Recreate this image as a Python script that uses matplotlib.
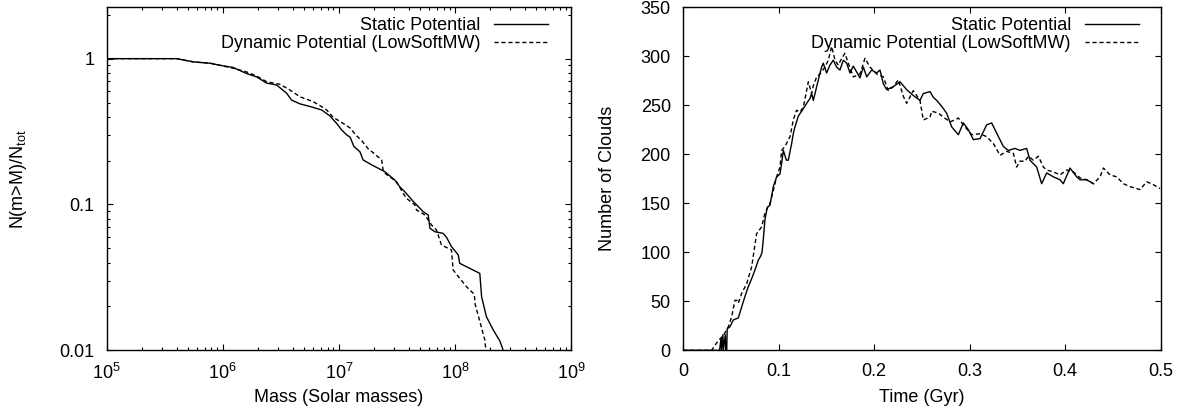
import numpy as np
import matplotlib
matplotlib.use('Agg')
import matplotlib.pyplot as plt
from matplotlib.ticker import NullFormatter, LogLocator

plt.rcParams['font.family'] = ['Liberation Sans', 'DejaVu Sans']
plt.rcParams['mathtext.fontset'] = 'custom'
plt.rcParams['mathtext.rm'] = 'Liberation Sans'
plt.rcParams['mathtext.default'] = 'regular'

# Left panel: cumulative mass function N(m>M)/Ntot
mass_static = [1e5, 4.0e5, 5.6e5, 7.8e5, 9.5e5, 1.23e6, 1.61e6, 1.96e6, 2.39e6,
               2.91e6, 3.55e6, 3.92e6, 4.62e6, 5.64e6, 7.11e6, 8.38e6, 9.57e6,
               1.06e7, 1.17e7, 1.25e7, 1.35e7, 1.52e7, 1.62e7, 1.92e7, 2.19e7,
               2.49e7, 3.04e7, 3.36e7, 3.71e7, 4.38e7, 5.33e7, 5.89e7, 6.10e7,
               6.73e7, 7.92e7, 8.47e7, 9.35e7, 1.07e8, 1.10e8, 1.64e8, 1.70e8,
               1.87e8, 2.14e8, 2.44e8, 2.61e8]
frac_static = [1.0, 1.0, 0.95, 0.93, 0.90, 0.87, 0.79, 0.75, 0.68,
               0.66, 0.58, 0.52, 0.49, 0.47, 0.445, 0.405, 0.36,
               0.324, 0.30, 0.29, 0.25, 0.23, 0.202, 0.187, 0.177,
               0.168, 0.147, 0.132, 0.122, 0.105, 0.0893, 0.0847, 0.0687,
               0.065, 0.0634, 0.0596, 0.0514, 0.0451, 0.0395, 0.0337, 0.0233,
               0.0170, 0.0138, 0.0116, 0.0100]

mass_dynamic = [1e5, 4.0e5, 5.6e5, 7.8e5, 9.5e5, 1.23e6, 1.61e6, 1.96e6, 2.39e6,
                3.11e6, 3.79e6, 4.62e6, 6.03e6, 7.11e6, 7.85e6, 8.95e6, 1.09e7,
                1.25e7, 1.4e7, 1.6e7, 1.8e7, 2.0e7, 2.34e7, 2.41e7, 2.49e7,
                3.15e7, 3.59e7, 3.84e7, 4.52e7, 4.68e7, 5.52e7, 5.89e7, 6.30e7,
                6.95e7, 7.67e7, 9.35e7, 9.66e7, 1.10e8, 1.26e8, 1.44e8, 1.47e8,
                1.50e8, 1.64e8, 1.81e8, 1.85e8]
frac_dynamic = [1.0, 1.0, 0.95, 0.93, 0.90, 0.86, 0.81, 0.76, 0.695,
                0.667, 0.61, 0.548, 0.507, 0.469, 0.445, 0.396, 0.36,
                0.335, 0.30, 0.27, 0.24, 0.225, 0.202, 0.172, 0.164,
                0.143, 0.119, 0.110, 0.0993, 0.0916, 0.0847, 0.0783, 0.0723,
                0.0668, 0.0527, 0.0488, 0.0356, 0.0312, 0.0273, 0.0246, 0.0240,
                0.0205, 0.0158, 0.0118, 0.0100]

# Right panel: number of clouds vs time
time_static = [0.0, 0.036, 0.038, 0.0395, 0.040, 0.0415, 0.042, 0.044, 0.0445,
               0.0455, 0.046, 0.0489, 0.0524, 0.0576, 0.0611, 0.0646, 0.0681,
               0.0716, 0.0751, 0.0786, 0.081, 0.0825, 0.0838, 0.0855, 0.088,
               0.0908, 0.0943, 0.0978, 0.1013, 0.103, 0.1048, 0.108, 0.110,
               0.1135, 0.1152, 0.117, 0.1205, 0.124, 0.1292, 0.1327, 0.1344,
               0.1362, 0.1397, 0.1432, 0.1449, 0.1466, 0.1501, 0.1536, 0.1571,
               0.1606, 0.1641, 0.1676, 0.1711, 0.1746, 0.178, 0.1816, 0.185,
               0.1886, 0.1921, 0.1973, 0.2025, 0.2060, 0.2095, 0.2130, 0.2200,
               0.2270, 0.2339, 0.2409, 0.2479, 0.2514, 0.2584, 0.262, 0.2654,
               0.2706, 0.2758, 0.2811, 0.2881, 0.2933, 0.2986, 0.3038, 0.3108,
               0.3177, 0.3230, 0.3265, 0.3352, 0.3404, 0.3474, 0.3526, 0.3596,
               0.3631, 0.3701, 0.3753, 0.3806, 0.3876, 0.3946, 0.3980, 0.4050,
               0.4120, 0.4155, 0.4225, 0.4295]
count_static = [0, 0, 0, 12, 0, 16, 0, 16, 0,
                0, 22, 24, 31, 33, 44, 55, 65,
                73, 82, 92, 96, 100, 113, 133, 146,
                148, 167, 177, 180, 191, 204, 194, 194,
                211, 221, 228, 239, 244, 252, 257, 262,
                255, 269, 283, 289, 293, 283, 291, 296,
                289, 286, 296, 293, 283, 290, 284, 278,
                289, 279, 286, 283, 286, 272, 266, 269,
                274, 266, 260, 255, 262, 264, 258, 255,
                249, 242, 228, 220, 232, 225, 215, 216,
                230, 232, 225, 208, 204, 206, 204, 206,
                194, 187, 170, 181, 177, 174, 170, 186,
                177, 174, 174, 170]

time_dynamic = [0.0, 0.014, 0.0297, 0.0367, 0.0419, 0.0472, 0.0506, 0.0541, 0.056,
                0.0576, 0.0611, 0.0664, 0.0716, 0.0768, 0.0821, 0.0855, 0.0908,
                0.0943, 0.0978, 0.1013, 0.1030, 0.1065, 0.1118, 0.1152, 0.1187,
                0.1222, 0.1257, 0.1310, 0.1344, 0.1362, 0.1397, 0.1432, 0.1484,
                0.1519, 0.1554, 0.1589, 0.1624, 0.1659, 0.1693, 0.1728, 0.1781,
                0.1851, 0.1903, 0.1955, 0.2025, 0.2095, 0.2147, 0.2200, 0.2252,
                0.2305, 0.2339, 0.2409, 0.2479, 0.2514, 0.2584, 0.2601, 0.2671,
                0.2724, 0.2794, 0.2881, 0.2933, 0.3021, 0.3108, 0.3177, 0.3247,
                0.3317, 0.3387, 0.3457, 0.3491, 0.3526, 0.3579, 0.3614, 0.3666,
                0.3719, 0.3771, 0.3806, 0.3876, 0.3946, 0.4015, 0.4085, 0.4155,
                0.4225, 0.4295, 0.4365, 0.4400, 0.4469, 0.4539, 0.4609, 0.4679,
                0.4749, 0.4784, 0.4853, 0.4923, 0.4993]
count_dynamic = [0, 0, 0, 10, 15, 24, 34, 51, 51,
                 48, 58, 68, 85, 119, 126, 140, 150,
                 163, 177, 187, 204, 208, 218, 235, 245,
                 243, 248, 274, 262, 270, 279, 282, 289,
                 296, 310, 296, 291, 298, 303, 293, 279,
                 282, 298, 289, 282, 279, 265, 269, 276,
                 259, 252, 265, 255, 235, 238, 244, 242,
                 238, 233, 237, 230, 220, 221, 218, 211,
                 199, 203, 201, 187, 193, 193, 198, 194,
                 198, 187, 184, 182, 179, 184, 182, 176,
                 174, 170, 177, 186, 179, 177, 170, 167,
                 165, 164, 172, 169, 165]

label_static = "Static Potential"
label_dynamic = "Dynamic Potential (LowSoftMW)"

fig = plt.figure(figsize=(11.85, 4.08), dpi=100)
ax1 = fig.add_axes([0.0900, 0.1414, 0.3918, 0.8407])
ax2 = fig.add_axes([0.5766, 0.1414, 0.4029, 0.8407])

fs = 13
dash = (0, (3, 2))

for ax in (ax1, ax2):
    for loc in ax.spines:
        ax.spines[loc].set_linewidth(1.0)
    ax.tick_params(axis='both', which='major', direction='in', length=4,
                   width=0.8, top=True, right=True, labelsize=fs, pad=9)
    ax.tick_params(axis='both', which='minor', direction='in', length=2,
                   width=0.8, top=True, right=True)

# Left panel
ax1.plot(mass_static, frac_static, color='black', lw=1.0, label=label_static)
ax1.plot(mass_dynamic, frac_dynamic, color='black', lw=1.0, linestyle=dash,
         label=label_dynamic)
ax1.set_xscale('log')
ax1.set_yscale('log')
ax1.set_xlim(1e5, 1e9)
ax1.set_ylim(0.01, 2.25)
ax1.set_xticks([1e5, 1e6, 1e7, 1e8, 1e9])
ax1.set_xticklabels(['$10^{5}$', '$10^{6}$', '$10^{7}$', '$10^{8}$', '$10^{9}$'])
ax1.set_yticks([0.01, 0.1, 1])
ax1.set_yticklabels(['0.01', '0.1', '1'])
ax1.xaxis.set_minor_locator(LogLocator(base=10, subs=np.arange(2, 10)))
ax1.yaxis.set_minor_locator(LogLocator(base=10, subs=np.arange(2, 10)))
ax1.xaxis.set_minor_formatter(NullFormatter())
ax1.yaxis.set_minor_formatter(NullFormatter())
ax1.set_xlabel("Mass (Solar masses)", fontsize=fs)
ax1.set_ylabel("N(m>M)/N$_{tot}$", fontsize=fs)
ax1.yaxis.set_label_coords(-0.168, 0.5)
ax1.xaxis.set_label_coords(0.5, -0.112)

# Right panel
ax2.plot(time_static, count_static, color='black', lw=1.0, label=label_static)
ax2.plot(time_dynamic, count_dynamic, color='black', lw=1.0, linestyle=dash,
         label=label_dynamic)
ax2.set_xlim(0, 0.5)
ax2.set_ylim(0, 350)
ax2.set_xticks([0, 0.1, 0.2, 0.3, 0.4, 0.5])
ax2.set_xticklabels(['0', '0.1', '0.2', '0.3', '0.4', '0.5'])
ax2.set_yticks(np.arange(0, 351, 50))
ax2.set_xlabel("Time (Gyr)", fontsize=fs)
ax2.set_ylabel("Number of Clouds", fontsize=fs)
ax2.yaxis.set_label_coords(-0.14, 0.5)
ax2.xaxis.set_label_coords(0.5, -0.112)

for ax, xa in ((ax1, 1 - 23 / 464.3), (ax2, 1 - 22 / 477.4)):
    ax.legend(loc='upper right', bbox_to_anchor=(xa, 0.971), frameon=False,
              markerfirst=False, fontsize=fs, handlelength=3.0,
              handletextpad=0.75, labelspacing=0.05, borderpad=0,
              borderaxespad=0)

fig.savefig('out.png', dpi=100)
